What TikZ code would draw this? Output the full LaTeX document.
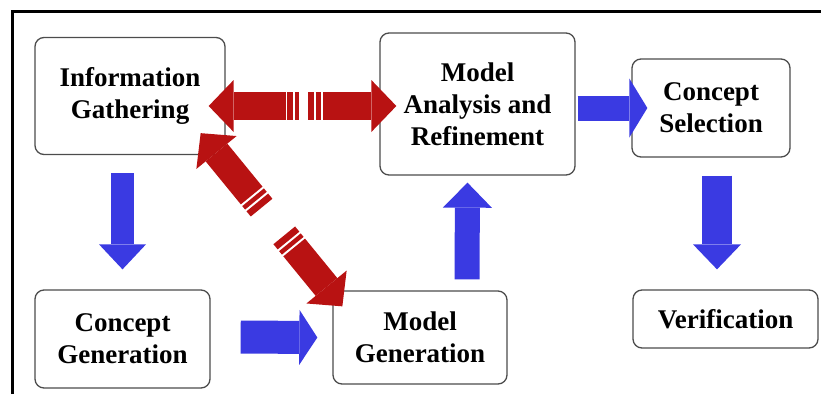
\documentclass[tikz,border=0pt]{standalone}
\usepackage{fontspec}
\setmainfont{Liberation Serif}
\usetikzlibrary{arrows.meta,calc}

\definecolor{flowblue}{RGB}{58,58,226}
\definecolor{flowred}{RGB}{184,18,18}

\begin{document}
\begin{tikzpicture}[x=1pt,y=-1pt,
    box/.style={draw=black!70,line width=1.3pt,rounded corners=9pt,align=center,inner sep=0pt,
                font=\fontsize{27}{32}\selectfont\bfseries},
    fat/.style n args={3}{draw=flowblue,line width=#1,-{Triangle[length=#2,width=#3,line width=0pt]}},
    redarr/.style={draw=flowred,line width=28pt,-{Triangle[length=25pt,width=52pt,line width=0pt]}},
    redbar/.style={draw=flowred,line width=28pt}]
\useasboundingbox (0,0) rectangle (821,394);
\draw[line width=3pt] (12,394) |- (821,11);

\node[box,minimum width=190pt,minimum height=117pt] (ig) at (130,96) {Information\\Gathering};
\node[box,minimum width=195pt,minimum height=142pt] (mar) at (477.5,104) {Model\\Analysis and\\Refinement};
\node[box,minimum width=158pt,minimum height=98pt] (cs) at (711,108) {Concept\\Selection};
\node[box,minimum width=175pt,minimum height=98pt] (cg) at (122.5,339) {Concept\\Generation};
\node[box,minimum width=174pt,minimum height=93pt] (mg) at (420,337.5) {Model\\Generation};
\node[box,minimum width=185pt,minimum height=58pt] (ver) at (725.5,319) {Verification};

\draw[fat={23pt}{25pt}{47pt}] ($(cg.north |- ig.south)+(0,18)$) -- ($(cg.north)+(0,-20)$);
\draw[fat={33pt}{18pt}{55pt}] ($(cg.east)+(30,-2)$) -- ($(mg.west)+(-15,0)$);
\draw[fat={25pt}{25pt}{49pt}] ($(mg.north)+(47,-11)$) -- ($(mar.south)+(-10,7)$);
\draw[fat={25pt}{18pt}{59pt}] ($(mar.east)+(2,4)$) -- ($(cs.west)+(16,0)$);
\draw[fat={30pt}{25pt}{48pt}] ($(cs.south)+(6,18)$) -- ($(ver.north)+(-8.5,-20)$);

\coordinate (h1) at ($(ig.east)+(-17,10)$);
\coordinate (h2) at ($(mar.west)+(17,2)$);
\draw[redarr] ($(h1)!0.41!(h2)$) -- (h1);
\foreach \a/\b in {0.42/0.45,0.46/0.48,0.53/0.56,0.57/0.60}
    \draw[redbar] ($(h1)!\a!(h2)$) -- ($(h1)!\b!(h2)$);
\draw[redarr] ($(h1)!0.61!(h2)$) -- (h2);

\coordinate (d1) at ($(ig.south east)+(-25,-22)$);
\coordinate (d2) at ($(mg.north west)+(10,16)$);
\draw[redarr] ($(d1)!0.36!(d2)$) -- (d1);
\foreach \a/\b in {0.37/0.39,0.40/0.43,0.59/0.62,0.63/0.65}
    \draw[redbar] ($(d1)!\a!(d2)$) -- ($(d1)!\b!(d2)$);
\draw[redarr] ($(d1)!0.66!(d2)$) -- (d2);
\end{tikzpicture}
\end{document}
